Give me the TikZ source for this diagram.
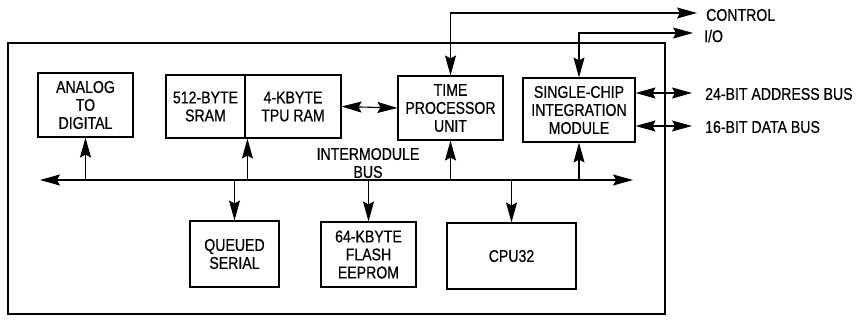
\documentclass[tikz,border=0pt]{standalone}
\usepackage{fontspec}
\setmainfont{Liberation Sans}[FakeStretch=0.83,FakeBold=0.6]
\usetikzlibrary{arrows.meta}
\begin{document}
\begin{tikzpicture}[x=1pt,y=-1pt,
  every node/.style={font=\fontsize{17}{18}\selectfont},
  blk/.style={draw,line width=1.1pt,align=center,inner sep=0pt},
  lbl/.style={anchor=west,inner sep=0pt},
  conn/.style={line width=1.1pt,-{Stealth[length=20pt 0 0,width=11pt 0 0,inset=3pt 0 0]}},
  dconn/.style={line width=1.1pt,{Stealth[length=20pt 0 0,width=11pt 0 0,inset=3pt 0 0]}-{Stealth[length=20pt 0 0,width=11pt 0 0,inset=3pt 0 0]}}]
\useasboundingbox (0,0) rectangle (859,320);
\draw[line width=1.8pt] (8,43) rectangle (665,314);
\node[blk,minimum width=95pt,minimum height=64pt] (adc) at (85.5,105) {ANALOG\\TO\\DIGITAL};
\node[blk,minimum width=79pt,minimum height=63pt] (sram) at (205.5,106.5) {512-BYTE\\SRAM};
\node[blk,minimum width=96pt,minimum height=63pt] (tpuram) at (293,106.5) {4-KBYTE\\TPU RAM};
\node[blk,minimum width=105pt,minimum height=64pt] (tpu) at (450.5,108) {TIME\\PROCESSOR\\UNIT};
\node[blk,minimum width=112pt,minimum height=64pt] (scim) at (579,110) {SINGLE-CHIP\\INTEGRATION\\MODULE};
\node[blk,minimum width=89pt,minimum height=66pt] (qs) at (234.5,254) {QUEUED\\SERIAL};
\node[blk,minimum width=95pt,minimum height=65pt] (flash) at (368.5,254.5) {64-KBYTE\\FLASH\\EEPROM};
\node[blk,minimum width=129pt,minimum height=66pt] (cpu) at (511.5,256) {CPU32};
\node[align=center,inner sep=0pt] (buslbl) at (368,163) {INTERMODULE\\BUS};
\node[lbl] (control) at (706,15) {CONTROL};
\node[lbl] (io) at (704,36) {I/O};
\node[lbl] (abus) at (705,94) {24-BIT ADDRESS BUS};
\node[lbl] (dbus) at (705,127) {16-BIT DATA BUS};
% bus
\coordinate (busL) at (40,180);
\coordinate (busR) at (633,180);
\draw[dconn] (busL) -- (busR);
% stubs
\draw[conn] (adc.south |- busL) -- (adc.south);
\draw[conn] ([xshift=3pt]tpuram.south west |- busL) -- ([xshift=3pt]tpuram.south west);
\draw[conn] (qs.north |- busL) -- (qs.north);
\draw[conn] (flash.north |- busL) -- (flash.north);
\draw[conn] (tpu.south |- busL) -- (tpu.south);
\draw[conn] (cpu.north |- busL) -- (cpu.north);
\draw[conn] (scim.south |- busL) -- (scim.south);
% tpu ram to tpu
\draw[dconn] (tpuram.east) -- (tpu.west);
% external
\coordinate (ctrlEnd) at (697,13);
\coordinate (ioEnd) at (693,33);
\draw[dconn] (tpu.north) -- (tpu.north |- ctrlEnd) -- (ctrlEnd);
\draw[dconn] (scim.north) -- (scim.north |- ioEnd) -- (ioEnd);
\coordinate (aEnd) at (692,93);
\coordinate (dEnd) at (692,126);
\draw[dconn] (scim.east |- aEnd) -- (aEnd);
\draw[dconn] (scim.east |- dEnd) -- (dEnd);
\end{tikzpicture}
\end{document}
